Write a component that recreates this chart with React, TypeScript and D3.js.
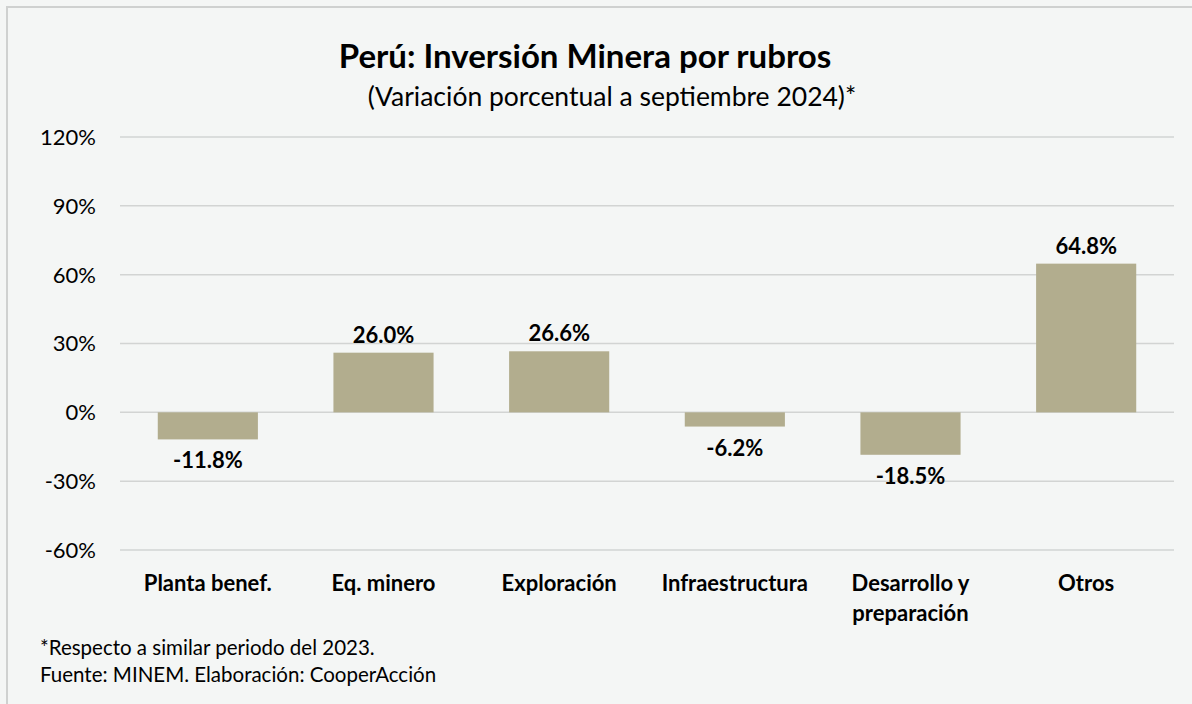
import { useEffect, useRef } from "react";
import * as d3 from "d3";

// rubros and their % change vs same period 2023
const categories = [
  ["Planta benef."],
  ["Eq. minero"],
  ["Exploración"],
  ["Infraestructura"],
  ["Desarrollo y", "preparación"],
  ["Otros"],
];
const values = [-11.8, 26.0, 26.6, -6.2, -18.5, 64.8];
const yTicks = [-60, -30, 0, 30, 60, 90, 120];

const W = 1192;
const H = 704;
const FONT = "Lato, 'Open Sans', sans-serif";

const App = () => {
  const svgRef = useRef<SVGSVGElement>(null);

  useEffect(() => {
    const svg = d3.select(svgRef.current);
    svg.selectAll("*").remove();

    const margin = { top: 137, right: 18, bottom: 154, left: 120 };
    const width = W - margin.left - margin.right;
    const height = H - margin.top - margin.bottom;

    svg.append("rect").attr("width", W).attr("height", H).attr("fill", "#f4f6f5");
    // outer frame (only top/left visible)
    svg
      .append("rect")
      .attr("x", 7)
      .attr("y", 7)
      .attr("width", W + 20)
      .attr("height", H + 20)
      .attr("fill", "none")
      .attr("stroke", "#cfd1d0")
      .attr("stroke-width", 2);

    svg
      .append("text")
      .attr("x", 585)
      .attr("y", 68)
      .attr("text-anchor", "middle")
      .style("font-family", FONT)
      .style("font-weight", "bold")
      .style("font-size", "33px")
      .attr("fill", "#000")
      .text("Perú: Inversión Minera por rubros");

    svg
      .append("text")
      .attr("x", 612)
      .attr("y", 106)
      .attr("text-anchor", "middle")
      .style("font-family", FONT)
      .style("font-size", "26.5px")
      .attr("fill", "#000")
      .text("(Variación porcentual a septiembre 2024)*");

    const g = svg.append("g").attr("transform", `translate(${margin.left},${margin.top})`);

    const x = d3
      .scaleBand<number>()
      .domain(d3.range(categories.length))
      .range([0, width])
      .paddingInner(0.43)
      .paddingOuter(0.215);

    const y = d3.scaleLinear().domain([-60, 120]).range([height, 0]);

    // gridlines
    g.selectAll(".grid")
      .data(yTicks)
      .enter()
      .append("line")
      .attr("x1", 0)
      .attr("x2", width)
      .attr("y1", (d) => y(d))
      .attr("y2", (d) => y(d))
      .attr("stroke", "#d2d4d3")
      .attr("stroke-width", 1.5);

    g.selectAll(".ytick")
      .data(yTicks)
      .enter()
      .append("text")
      .attr("x", -24)
      .attr("y", (d) => y(d))
      .attr("dy", "0.36em")
      .attr("text-anchor", "end")
      .style("font-family", FONT)
      .style("font-size", "22px")
      .attr("fill", "#000")
      .text((d) => `${d}%`);

    g.selectAll(".bar")
      .data(values)
      .enter()
      .append("rect")
      .attr("x", (_, i) => x(i)!)
      .attr("width", x.bandwidth())
      .attr("y", (d) => y(Math.max(0, d)))
      .attr("height", (d) => Math.abs(y(d) - y(0)))
      .attr("fill", "#b2ad8e");

    g.selectAll(".val")
      .data(values)
      .enter()
      .append("text")
      .attr("x", (_, i) => x(i)! + x.bandwidth() / 2)
      .attr("y", (d) => (d >= 0 ? y(d) - 10 : y(d) + 29))
      .attr("text-anchor", "middle")
      .style("font-family", FONT)
      .style("font-weight", "bold")
      .style("font-size", "22px")
      .attr("fill", "#000")
      .text((d) => `${d.toFixed(1)}%`);

    const cat = g
      .selectAll(".cat")
      .data(categories)
      .enter()
      .append("text")
      .attr("text-anchor", "middle")
      .style("font-family", FONT)
      .style("font-weight", "bold")
      .style("font-size", "22px")
      .attr("fill", "#000");
    cat
      .selectAll("tspan")
      .data((d, i) => d.map((line, j) => ({ line, j, i })))
      .enter()
      .append("tspan")
      .attr("x", (d) => x(d.i)! + x.bandwidth() / 2)
      .attr("y", (d) => height + 41 + d.j * 30)
      .text((d) => d.line);

    const notes = ["*Respecto a similar periodo del 2023.", "Fuente: MINEM. Elaboración: CooperAcción"];
    svg
      .selectAll(".note")
      .data(notes)
      .enter()
      .append("text")
      .attr("x", 40)
      .attr("y", (_, i) => 655 + i * 27)
      .style("font-family", FONT)
      .style("font-size", "20.5px")
      .attr("fill", "#000")
      .text((d) => d);
  }, []);

  return (
    <div style={{ position: "fixed", left: 0, top: 0 }}>
      <svg ref={svgRef} width={W} height={H} style={{ display: "block" }} />
    </div>
  );
};

export default App;
